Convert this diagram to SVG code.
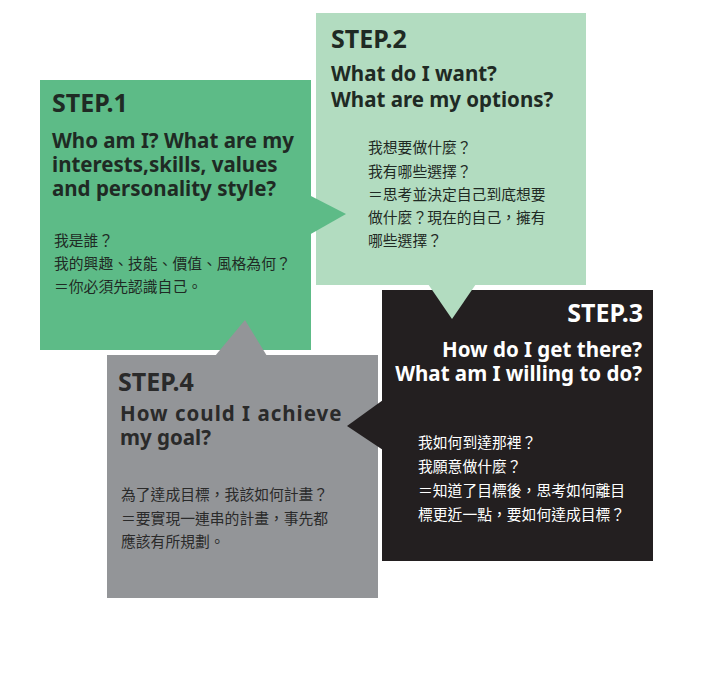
<svg xmlns="http://www.w3.org/2000/svg" width="712" height="681" viewBox="0 0 712 681">
<style>
.h{font-family:"Noto Sans","Open Sans",sans-serif;font-weight:bold;font-size:25px}
.e{font-family:"Noto Sans","Open Sans",sans-serif;font-weight:bold;font-size:20.5px}
.c{font-family:"Noto Sans CJK TC","Noto Sans CJK SC",sans-serif;font-size:14.8px}
.d{fill:#1f2a24}
</style>
<rect width="712" height="681" fill="#fff"/>
<g id="step1">
<rect x="40" y="80" width="271" height="270" fill="#5dbb87"/>
<text class="h d" x="52" y="112">STEP.1</text>
<text class="e d" x="52" y="148">Who am I? What are my</text>
<text class="e d" x="52" y="172">interests,skills, values</text>
<text class="e d" x="52" y="196">and personality style?</text>
<text class="c d" x="54" y="246">我是誰？</text>
<text class="c d" x="54" y="269">我的興趣、技能、價值、風格為何？</text>
<text class="c d" x="54" y="292">＝你必須先認識自己。</text>
</g>
<g id="step2">
<rect x="316" y="13" width="270" height="272" fill="#b2dcc0"/>
<text class="h d" x="331" y="48">STEP.2</text>
<text class="e d" x="331" y="81">What do I want?</text>
<text class="e d" x="331" y="107">What are my options?</text>
<text class="c d" x="368" y="153">我想要做什麼？</text>
<text class="c d" x="368" y="177">我有哪些選擇？</text>
<text class="c d" x="368" y="200">＝思考並決定自己到底想要</text>
<text class="c d" x="368" y="223">做什麼？現在的自己，擁有</text>
<text class="c d" x="368" y="246">哪些選擇？</text>
</g>
<g id="step3">
<rect x="382" y="290" width="271" height="271" fill="#231f20"/>
<text class="h" fill="#fff" x="643" y="322" text-anchor="end">STEP.3</text>
<text class="e" fill="#fff" x="642" y="357" text-anchor="end">How do I get there?</text>
<text class="e" fill="#fff" x="642" y="381" text-anchor="end">What am I willing to do?</text>
<text class="c" fill="#fff" x="418" y="448">我如何到達那裡？</text>
<text class="c" fill="#fff" x="418" y="472">我願意做什麼？</text>
<text class="c" fill="#fff" x="418" y="496">＝知道了目標後，思考如何離目</text>
<text class="c" fill="#fff" x="418" y="520">標更近一點，要如何達成目標？</text>
</g>
<g id="step4">
<rect x="107" y="355" width="271" height="243" fill="#939598"/>
<text class="h" fill="#2a2a2a" x="118" y="391">STEP.4</text>
<text class="e" fill="#2a2a2a" x="120" y="421" letter-spacing="1">How could I achieve</text>
<text class="e" fill="#2a2a2a" x="120" y="445">my goal?</text>
<text class="c" fill="#2a2a2a" x="121" y="500">為了達成目標，我該如何計畫？</text>
<text class="c" fill="#2a2a2a" x="121" y="524">＝要實現一連串的計畫，事先都</text>
<text class="c" fill="#2a2a2a" x="121" y="547">應該有所規劃。</text>
</g>
<g id="connectors">
<polygon points="309,195 346,214 309,235" fill="#5dbb87"/>
<polygon points="428,284 452,319 476,284" fill="#b2dcc0"/>
<polygon points="383,400 347,426 383,450" fill="#231f20"/>
<polygon points="215,356 245,320 267,356" fill="#939598"/>
</g>
</svg>
